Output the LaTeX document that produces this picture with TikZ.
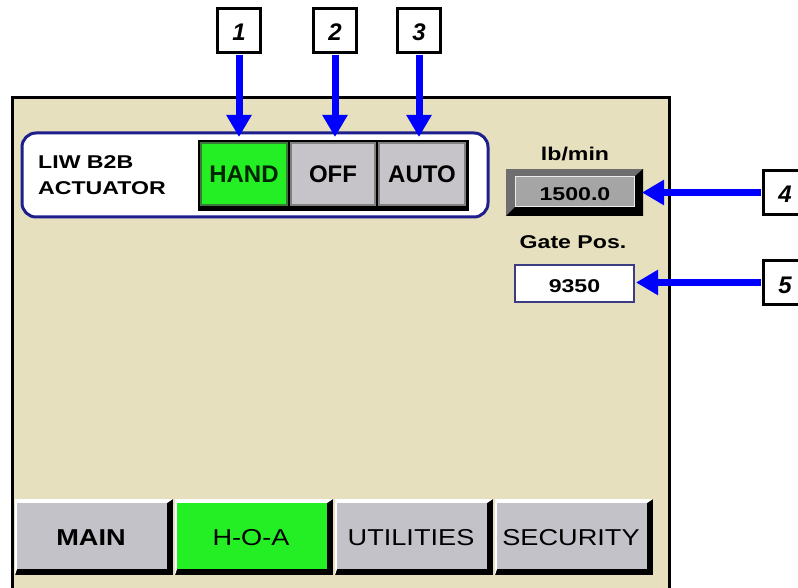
\documentclass[tikz,border=0pt]{standalone}
\usepackage{fontspec}
\setmainfont{Liberation Sans}
\newfontfamily\widefont[FakeStretch=1.25]{Liberation Sans}
\newfontfamily\tabfont[FakeStretch=1.18]{Liberation Sans}
\usetikzlibrary{arrows.meta}
\definecolor{panelbg}{RGB}{230,224,190}
\definecolor{groupblue}{RGB}{30,30,140}
\definecolor{boxblue}{RGB}{60,60,130}
\definecolor{hoagreen}{RGB}{36,238,36}
\definecolor{greenedge}{RGB}{60,120,60}
\definecolor{btngray}{RGB}{198,196,200}
\definecolor{tabgray}{RGB}{195,194,200}
\definecolor{bevdark}{RGB}{110,110,110}
\definecolor{dispgray}{RGB}{165,165,165}
\definecolor{arrowblue}{RGB}{0,0,255}
\tikzset{
  callout/.style={draw=black, line width=3pt, fill=white, minimum width=43pt, minimum height=44pt, inner sep=0pt,
    text height=21pt, text depth=0pt, font=\fontsize{24}{24}\selectfont\bfseries\itshape},
  bluearrow/.style={draw=arrowblue, line width=7pt, -{Triangle[length=22pt,width=24pt]}},
  smalllabel/.style={anchor=base, inner sep=0pt, font=\widefont\fontsize{18.5}{18.5}\selectfont\bfseries},
  btntext/.style={anchor=base, inner sep=0pt, font=\fontsize{24}{24}\selectfont\bfseries},
  tablabel/.style={anchor=base, inner sep=0pt}
}
\begin{document}
\begin{tikzpicture}[x=1pt,y=-1pt]
\useasboundingbox (0,0) rectangle (798,588);
\clip (0,0) rectangle (798,588);
\fill[white] (0,0) rectangle (798,588);
% panel
\draw[line width=3pt, fill=panelbg] (12,98) rectangle (669,640);
% group box
\draw[groupblue, line width=3pt, fill=white, rounded corners=14pt] (22,133) rectangle (488,217);
\node[smalllabel, anchor=base west] (liw) at (38,169) {LIW B2B};
\node[smalllabel, anchor=base west] (act) at (38,195) {ACTUATOR};
% button row
\fill[black] (198,140) rectangle (469,211);
\draw[fill=hoagreen, draw=greenedge, line width=1.5pt] (201,143) rectangle (287,205);
\draw[fill=btngray, draw=gray, line width=1.5pt] (291,143) rectangle (375,205);
\draw[fill=btngray, draw=gray, line width=1.5pt] (379,143) rectangle (465,205);
\node[btntext, text=black!85!green] (hand) at (244,183) {HAND};
\node[btntext] (off) at (333,183) {OFF};
\node[btntext] (auto) at (422,183) {AUTO};
% lb/min display
\node[smalllabel] (lbmin) at (575,161) {lb/min};
\fill[bevdark] (506,169) rectangle (643,216);
\fill[black] (643,169) -- (643,216) -- (506,216) -- (515,207) -- (634,207) -- (634,177) -- cycle;
\draw[fill=dispgray, draw=white!85!gray, line width=1pt] (515,177) rectangle (634,207);
\node[smalllabel] (rate) at (575,201) {1500.0};
% gate pos
\node[smalllabel] (gate) at (573,249) {Gate Pos.};
\draw[fill=white, draw=boxblue, line width=2pt] (515,265) rectangle (634,302);
\node[smalllabel] (pos) at (574.5,292) {9350};
% tabs
\foreach \lx/\fc/\nm/\txt/\ff in {15/tabgray/tmain/MAIN/\bfseries,175/hoagreen/thoa/H-O-A/\mdseries,335/tabgray/tutil/UTILITIES/\mdseries,495/tabgray/tsec/SECURITY/\mdseries}{
  \pgfmathsetmacro\rx{\lx+158}
  \fill[black] (\lx,499) rectangle (\rx,575);
  \fill[white] (\lx,499) -- (\rx,499) -- (\rx-6,503) -- (\lx+2,503) -- (\lx+2,569) -- (\lx,575) -- cycle;
  \fill[\fc] (\lx+2,503) rectangle (\rx-6,569);
  \node[tablabel, font=\tabfont\fontsize{23}{23}\selectfont\ff] (\nm) at ({(\lx+\rx-6)/2},545.5) {\txt};
}
% callouts
\node[callout] (c1) at (239,30.5) {1};
\node[callout] (c2) at (335,30.5) {2};
\node[callout] (c3) at (419,30.5) {3};
\node[callout] (c4) at (785,192.5) {4};
\node[callout] (c5) at (785,282.5) {5};
\coordinate (t1) at (239,137);
\coordinate (t2) at (335,137);
\coordinate (t3) at (419,137);
\coordinate (t4) at (642,192.5);
\coordinate (t5) at (636,282.5);
\draw[bluearrow, shorten <=1.5pt] (c1.south) -- (t1);
\draw[bluearrow, shorten <=1.5pt] (c2.south) -- (t2);
\draw[bluearrow, shorten <=1.5pt] (c3.south) -- (t3);
\draw[bluearrow, shorten <=1.5pt] (c4.west) -- (t4);
\draw[bluearrow, shorten <=1.5pt] (c5.west) -- (t5);
\end{tikzpicture}
\end{document}
